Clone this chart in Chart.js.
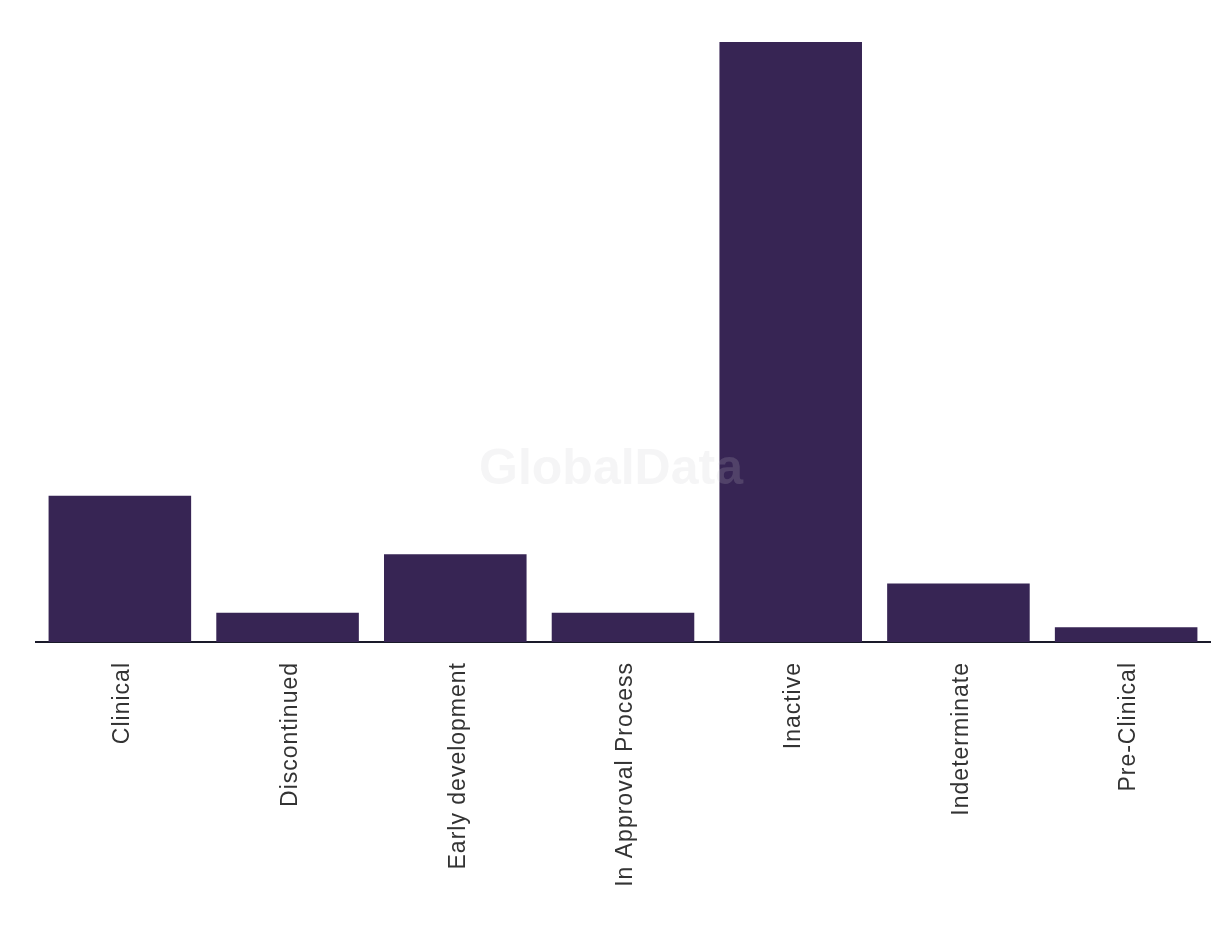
<!DOCTYPE html>
<html>
<head>
<meta charset="utf-8">
<script src="https://cdn.jsdelivr.net/npm/chart.js@4.4.1/dist/chart.umd.min.js"></script>
<style>
  html, body { margin: 0; padding: 0; background: #ffffff; }
  #wrap { width: 1220px; height: 936px; position: relative; }
</style>
</head>
<body>
<div id="wrap"><canvas id="c" width="1220" height="936"></canvas></div>
<script>
const categories = ["Clinical", "Discontinued", "Early development", "In Approval Process", "Inactive", "Indeterminate", "Pre-Clinical"];
const counts = [10, 2, 6, 2, 41, 4, 1];
const barColor = "#372554";

const spacing = {
  id: "spacing",
  beforeUpdate(chart) { chart.ctx.letterSpacing = "1px"; },
  beforeDraw(chart) { chart.ctx.letterSpacing = "1px"; }
};

const watermark = {
  id: "watermark",
  afterDatasetsDraw(chart) {
    const ctx = chart.ctx;
    ctx.save();
    ctx.letterSpacing = "0px";
    ctx.font = "bold 50px 'Liberation Sans', Arial, sans-serif";
    ctx.fillStyle = "rgba(200,200,205,0.18)";
    ctx.textAlign = "center";
    ctx.textBaseline = "middle";
    ctx.fillText("GlobalData", 611, 470);
    ctx.restore();
  }
};

new Chart(document.getElementById("c"), {
  type: "bar",
  data: {
    labels: categories,
    datasets: [{
      data: counts,
      backgroundColor: barColor,
      barPercentage: 0.85,
      categoryPercentage: 1.0
    }]
  },
  options: {
    responsive: false,
    animation: false,
    layout: { padding: { left: 36, right: 10, top: 42, bottom: 0 } },
    plugins: { legend: { display: false }, tooltip: { enabled: false } },
    scales: {
      x: {
        grid: { display: false, drawTicks: false },
        border: { display: true, color: "#1a1a2a", width: 2 },
        ticks: {
          color: "#333333",
          font: { family: "'Liberation Sans', Arial, sans-serif", size: 23 },
          minRotation: 90,
          maxRotation: 90,
          padding: 20,
          labelOffset: 3
        },
        afterFit(scale) { scale.height = 294; }
      },
      y: {
        display: false,
        min: 0,
        max: 41
      }
    }
  },
  plugins: [spacing, watermark]
});
</script>
</body>
</html>
